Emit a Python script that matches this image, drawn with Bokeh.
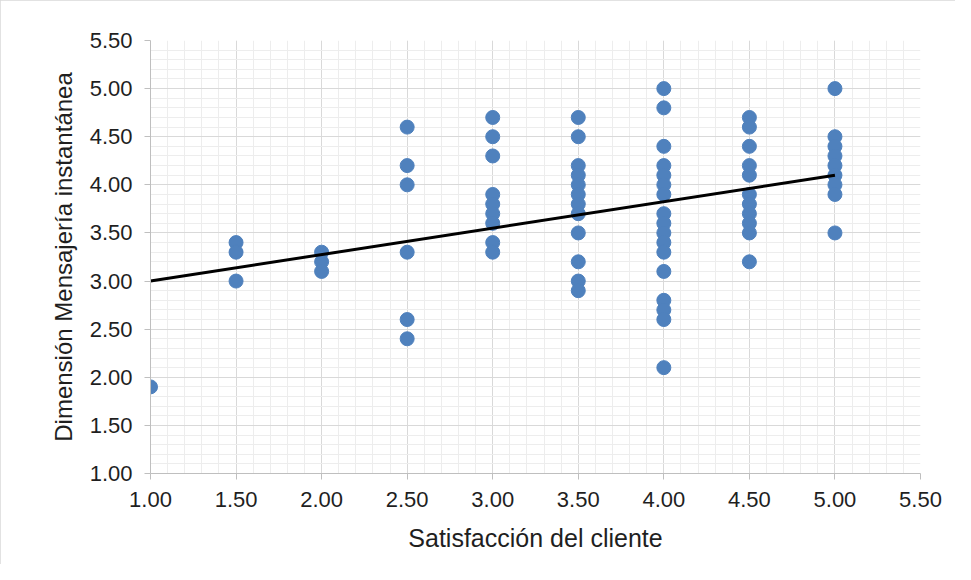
from bokeh.plotting import figure
from bokeh.models import FixedTicker, NumeralTickFormatter, ColumnDataSource, Range1d
from bokeh.embed import file_html
from bokeh.resources import INLINE

# ---- data ----
sat = (
    [1.0]
    + [1.5] * 3
    + [2.0] * 3
    + [2.5] * 6
    + [3.0] * 9
    + [3.5] * 12
    + [4.0] * 17
    + [4.5] * 11
    + [5.0] * 9
)
msg = (
    [1.9]
    + [3.4, 3.3, 3.0]
    + [3.3, 3.2, 3.1]
    + [4.6, 4.2, 4.0, 3.3, 2.6, 2.4]
    + [4.7, 4.5, 4.3, 3.9, 3.8, 3.7, 3.6, 3.4, 3.3]
    + [4.7, 4.5, 4.2, 4.1, 4.0, 3.9, 3.8, 3.7, 3.5, 3.2, 3.0, 2.9]
    + [5.0, 4.8, 4.4, 4.2, 4.1, 4.0, 3.9, 3.7, 3.6, 3.5, 3.4, 3.3, 3.1, 2.8, 2.7, 2.6, 2.1]
    + [4.7, 4.6, 4.4, 4.2, 4.1, 3.9, 3.8, 3.7, 3.6, 3.5, 3.2]
    + [5.0, 4.5, 4.4, 4.3, 4.2, 4.1, 4.0, 3.9, 3.5]
)
trend_x = [1.0, 5.0]
trend_y = [3.0, 4.1]

major_ticks = [1.0, 1.5, 2.0, 2.5, 3.0, 3.5, 4.0, 4.5, 5.0, 5.5]
minor_ticks = [round(1.0 + 0.1 * i, 2) for i in range(46)]

x_title = "Satisfacción del cliente"
y_title = "Dimensión Mensajería instantánea"

FONT = "Liberation Sans"
TXT = "#1f1f1f"

p = figure(
    width=955, height=564,
    x_range=Range1d(1.0, 5.5), y_range=Range1d(1.0, 5.5),
    output_backend="svg", toolbar_location=None,
    min_border_left=150, min_border_right=35,
    min_border_top=40, min_border_bottom=91,
    background_fill_color="white", border_fill_color="white",
)
p.styles = {"outline": "1px solid #d9d9d9", "outline-offset": "-1px"}
p.outline_line_color = None

for ax, title in ((p.xaxis[0], x_title), (p.yaxis[0], y_title)):
    ax.ticker = FixedTicker(ticks=major_ticks, minor_ticks=minor_ticks)
    ax.formatter = NumeralTickFormatter(format="0.00")
    ax.axis_label = title
    ax.axis_label_text_font = FONT
    ax.axis_label_text_font_size = "24px"
    ax.axis_label_text_font_style = "normal"
    ax.axis_label_text_color = TXT
    ax.major_label_text_font = FONT
    ax.major_label_text_font_size = "22px"
    ax.major_label_text_color = TXT
    ax.axis_line_color = "#bfbfbf"
    ax.major_tick_line_color = "#bfbfbf"
    ax.major_tick_out = 6
    ax.major_tick_in = 0
    ax.minor_tick_line_color = None

p.xaxis.axis_label_text_font_size = "25px"
p.yaxis.major_label_standoff = 12
p.yaxis.axis_label_standoff = 10
p.xaxis.major_label_standoff = 12
p.xaxis.axis_label_standoff = 14

for g in (p.xgrid[0], p.ygrid[0]):
    g.ticker = FixedTicker(ticks=major_ticks, minor_ticks=minor_ticks)
    g.grid_line_color = "#d9d9d9"
    g.grid_line_width = 1
    g.minor_grid_line_color = "#ededed"
    g.minor_grid_line_width = 1

src = ColumnDataSource(data=dict(x=sat, y=msg))
p.scatter("x", "y", source=src, size=14, fill_color="#4f81bd", line_color="#4f81bd")
p.line(trend_x, trend_y, line_color="black", line_width=3)

open("out.html", "w").write(file_html(p, INLINE))
